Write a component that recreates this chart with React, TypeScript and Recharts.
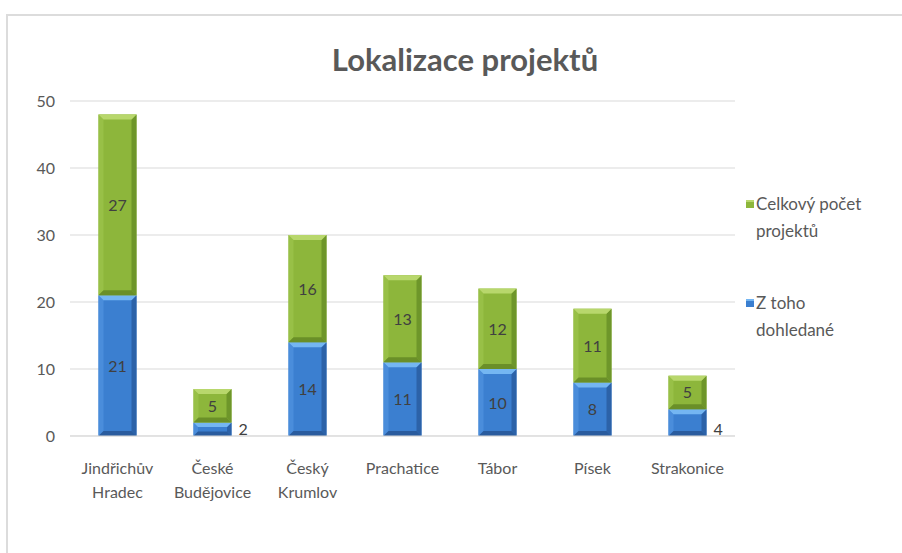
import React from "react";
import { BarChart, Bar, XAxis, YAxis, CartesianGrid, Legend, LabelList } from "recharts";

const categories = [
  "Jindřichův Hradec",
  "České Budějovice",
  "Český Krumlov",
  "Prachatice",
  "Tábor",
  "Písek",
  "Strakonice",
];
const categoryLines = [
  ["Jindřichův", "Hradec"],
  ["České", "Budějovice"],
  ["Český", "Krumlov"],
  ["Prachatice"],
  ["Tábor"],
  ["Písek"],
  ["Strakonice"],
];
const foundValues = [21, 2, 14, 11, 10, 8, 4];
const restValues = [27, 5, 16, 13, 12, 11, 5];
const yTicks = [0, 10, 20, 30, 40, 50];

const FONT = "Lato, 'Open Sans', sans-serif";
const TEXT = "#595959";

const data = categories.map((name, i) => ({
  name,
  found: foundValues[i],
  rest: restValues[i],
}));

const palette = {
  blue: { base: "#3b7fd0", top: "#74b6f2", left: "#4a8ddb", right: "#2c62a8", bottom: "#2a5c9e" },
  green: { base: "#8db63b", top: "#b8d76c", left: "#98c047", right: "#6e962a", bottom: "#6a8f28" },
};

const makeShape = (c: typeof palette.blue) => (props: any) => {
  const { x, y, width: w, height: h } = props;
  if (!h || h <= 0) return <g />;
  const b = Math.min(5, h / 3, w / 4);
  return (
    <g>
      <rect x={x} y={y} width={w} height={h} fill={c.base} />
      <polygon points={`${x},${y} ${x + b},${y + b} ${x + b},${y + h - b} ${x},${y + h}`} fill={c.left} />
      <polygon points={`${x + w},${y} ${x + w - b},${y + b} ${x + w - b},${y + h - b} ${x + w},${y + h}`} fill={c.right} />
      <polygon points={`${x},${y + h} ${x + b},${y + h - b} ${x + w - b},${y + h - b} ${x + w},${y + h}`} fill={c.bottom} />
      <polygon points={`${x},${y} ${x + w},${y} ${x + w - b},${y + b} ${x + b},${y + b}`} fill={c.top} />
    </g>
  );
};

const BlueShape = makeShape(palette.blue);
const GreenShape = makeShape(palette.green);

const segLabel = (outsideBelow: number) => (props: any) => {
  const { x, y, width, height, value } = props;
  const outside = value < outsideBelow;
  return (
    <text
      x={outside ? x + width + 7 : x + width / 2}
      y={outside ? y + height - 1 : y + height / 2 + 6}
      textAnchor={outside ? "start" : "middle"}
      fontFamily={FONT}
      fontSize={16}
      fill="#404040"
    >
      {value}
    </text>
  );
};

const CategoryTick = (props: any) => {
  const { x, y, index } = props;
  const lines = categoryLines[index] || [];
  return (
    <g>
      {lines.map((line, i) => (
        <text key={i} x={x} y={y + 30 + i * 24} textAnchor="middle" fontFamily={FONT} fontSize={16} fill={TEXT}>
          {line}
        </text>
      ))}
    </g>
  );
};

const legendItems = [
  { color: palette.green, lines: ["Celkový počet", "projektů"] },
  { color: palette.blue, lines: ["Z toho", "dohledané"] },
];

const renderLegend = () => (
  <div style={{ fontFamily: FONT, fontSize: 17, color: TEXT, lineHeight: "27px" }}>
    {legendItems.map((item, i) => (
      <div key={i} style={{ display: "flex", alignItems: "flex-start", marginBottom: i === 0 ? 45 : 0 }}>
        <span
          style={{
            display: "inline-block",
            flex: "none",
            width: 8,
            height: 8,
            marginTop: 10,
            marginRight: 2,
            background: item.color.base,
            borderTop: `2px solid ${item.color.top}`,
            boxSizing: "border-box",
          }}
        />
        <div>
          {item.lines.map((l, j) => (
            <div key={j}>{l}</div>
          ))}
        </div>
      </div>
    ))}
  </div>
);

export default function App() {
  return (
    <div style={{ position: "fixed", left: 0, top: 0, width: 902, height: 553, background: "#fff", overflow: "hidden" }}>
      <div
        style={{
          position: "absolute",
          left: 6,
          top: 14,
          width: 920,
          height: 560,
          border: "2px solid #dcdcdc",
          boxSizing: "border-box",
        }}
      />
      <div
        style={{
          position: "absolute",
          left: 0,
          width: 930,
          top: 40,
          textAlign: "center",
          fontFamily: FONT,
          fontWeight: "bold",
          fontSize: 31,
          color: TEXT,
        }}
      >
        Lokalizace projektů
      </div>
      <div style={{ position: "absolute", left: 0, top: 0 }}>
        <BarChart
          width={902}
          height={553}
          data={data}
          margin={{ top: 101, right: 17, left: 0, bottom: 57 }}
          barCategoryGap="30%"
        >
          <CartesianGrid horizontal vertical={false} stroke="#d9d9d9" />
          <XAxis
            dataKey="name"
            height={60}
            interval={0}
            tickLine={false}
            axisLine={{ stroke: "#d9d9d9" }}
            tick={<CategoryTick />}
          />
          <YAxis
            width={70}
            domain={[0, 50]}
            ticks={yTicks}
            tickLine={false}
            axisLine={false}
            tickSize={0}
            tickMargin={15}
            tick={{ fontFamily: FONT, fontSize: 16, fill: TEXT }}
          />
          <Legend
            layout="vertical"
            align="right"
            verticalAlign="top"
            content={renderLegend}
            wrapperStyle={{ left: 746, top: 190, width: 150 }}
          />
          <Bar dataKey="found" stackId="a" fill={palette.blue.base} shape={<BlueShape />} isAnimationActive={false}>
            <LabelList dataKey="found" content={segLabel(5)} />
          </Bar>
          <Bar dataKey="rest" stackId="a" fill={palette.green.base} shape={<GreenShape />} isAnimationActive={false}>
            <LabelList dataKey="rest" content={segLabel(0)} />
          </Bar>
        </BarChart>
      </div>
    </div>
  );
}
